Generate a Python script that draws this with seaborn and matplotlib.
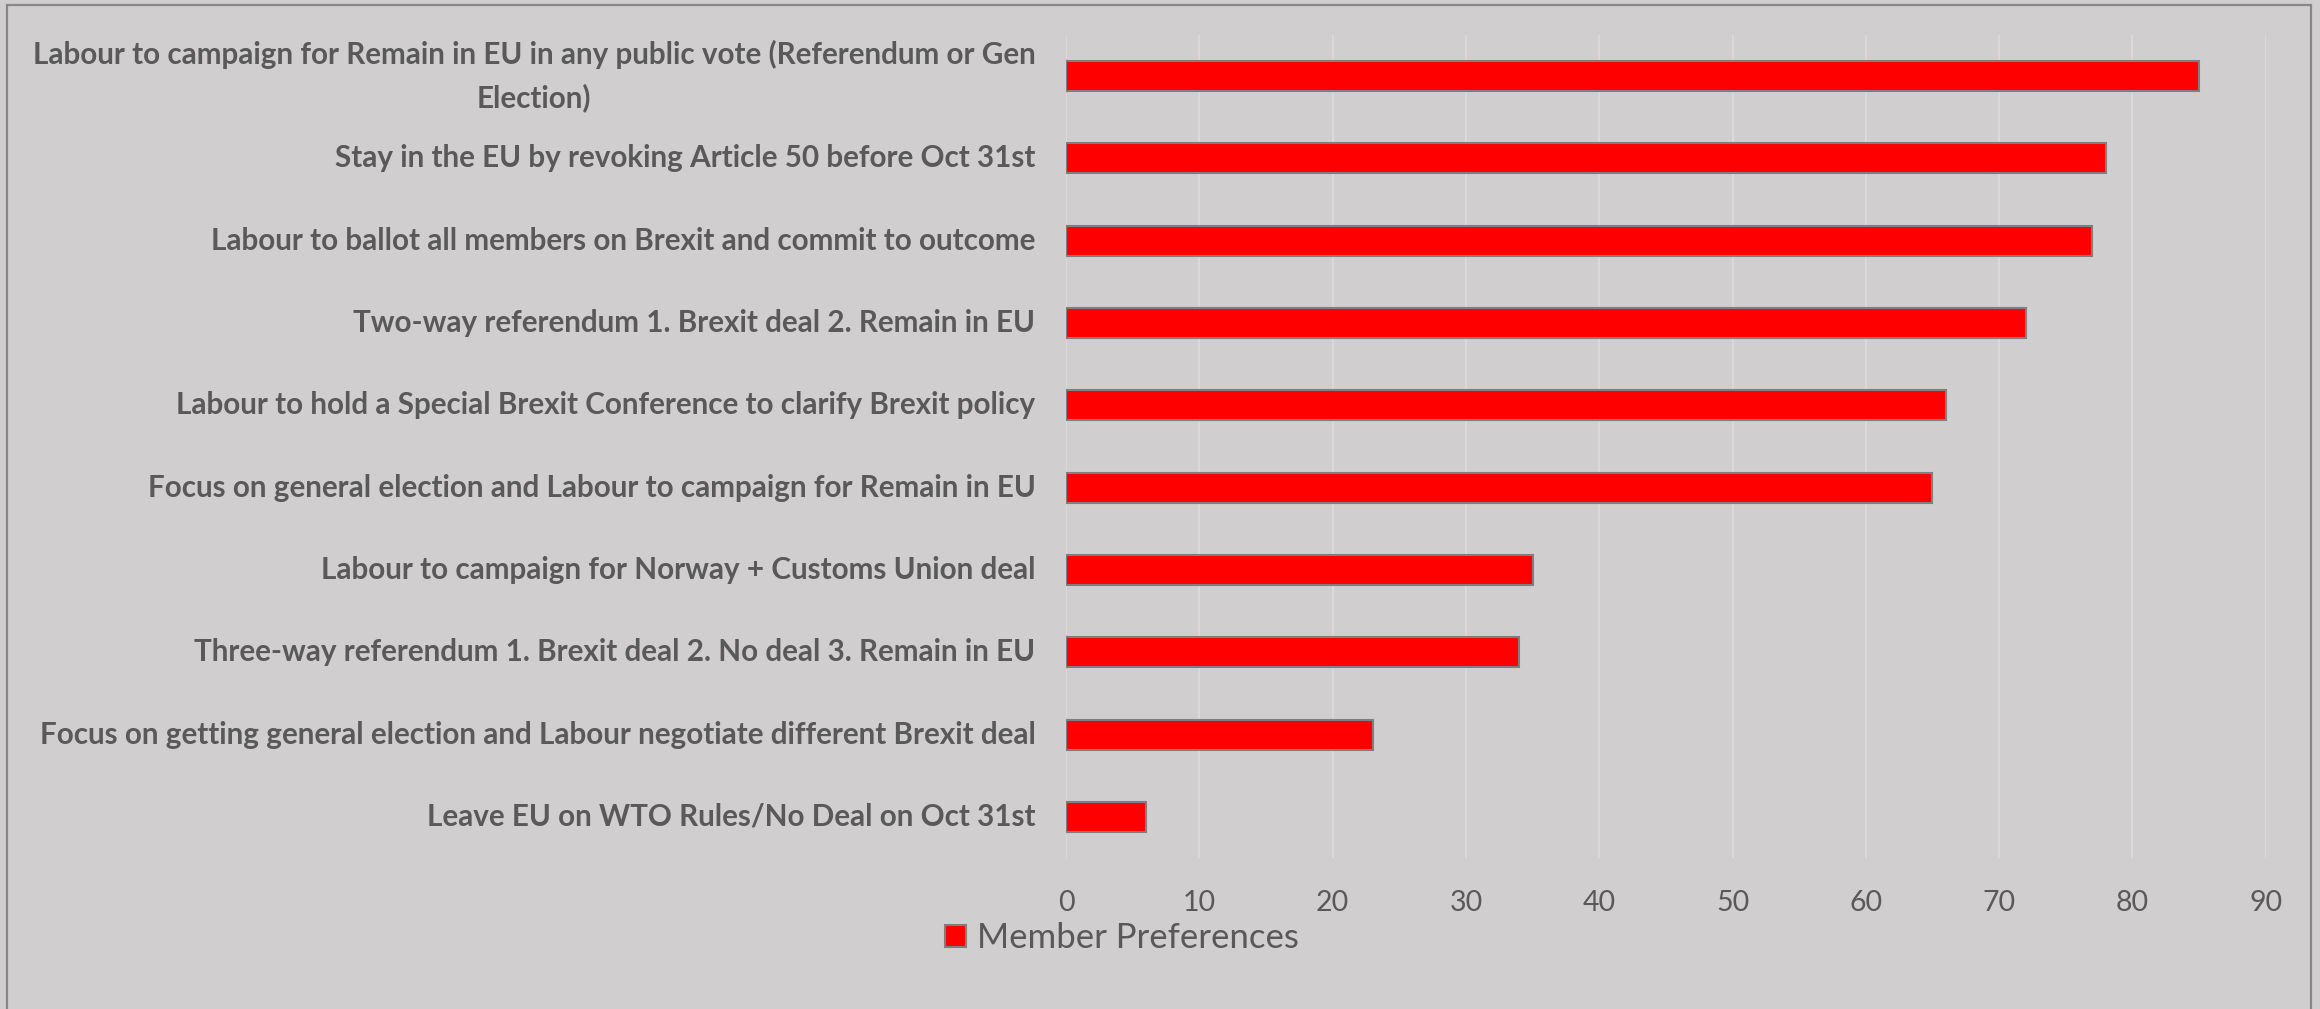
import matplotlib
matplotlib.use("Agg")
import matplotlib.pyplot as plt
import seaborn as sns
import pandas as pd
from matplotlib.patches import Rectangle, Patch

categories = [
    "Labour to campaign for Remain in EU in any public vote (Referendum or Gen\nElection)",
    "Stay in the EU by revoking Article 50 before Oct 31st",
    "Labour to ballot all members on Brexit and commit to outcome",
    "Two-way referendum 1. Brexit deal 2. Remain in EU",
    "Labour to hold a Special Brexit Conference to clarify Brexit policy",
    "Focus on general election and Labour to campaign for Remain in EU",
    "Labour to campaign for Norway + Customs Union deal",
    "Three-way referendum 1. Brexit deal 2. No deal 3. Remain in EU",
    "Focus on getting general election and Labour negotiate different Brexit deal",
    "Leave EU on WTO Rules/No Deal on Oct 31st",
]
values = [85, 78, 77, 72, 66, 65, 35, 34, 23, 6]
series_name = "Member Preferences"
xticks = [0, 10, 20, 30, 40, 50, 60, 70, 80, 90]

BG = "#D0CECE"
TXT = "#595959"

sns.set_theme(style="white")
plt.rcParams["font.family"] = ["Lato", "DejaVu Sans"]

W, H = 2320, 1009
fig = plt.figure(figsize=(W / 100, H / 100), dpi=100)
fig.patch.set_facecolor(BG)
ax = fig.add_axes([1066 / W, 1 - 858 / H, (2265.7 - 1066) / W, (858 - 35) / H])
ax.set_facecolor(BG)

df = pd.DataFrame({"category": categories, "value": values})
sns.barplot(data=df, x="value", y="category", orient="h", color="#FF0000",
            saturation=1, edgecolor="#7F7F7F", linewidth=1.5, width=0.365, ax=ax)

ax.set_xlim(0, 90)
ax.set_xticks(xticks)
ax.set_xlabel("")
ax.set_ylabel("")
ax.grid(axis="x", color="#DADADA", linewidth=1.4)
ax.set_axisbelow(True)
for s in ax.spines.values():
    s.set_visible(False)
ax.tick_params(axis="x", length=0, pad=23, labelsize=20.5, labelcolor=TXT)
ax.tick_params(axis="y", length=0, pad=22, labelsize=21.3, labelcolor=TXT)
for lab in ax.get_yticklabels():
    lab.set_fontweight("bold")
    lab.set_multialignment("center")
    lab.set_linespacing(1.6)
    lab.set_verticalalignment("center")

handle = Patch(facecolor="#FF0000", edgecolor="#7F7F7F", linewidth=1.5)
fig.legend([handle], [series_name], loc="center",
           bbox_to_anchor=(1122 / W, 1 - 938 / H), frameon=False,
           fontsize=25, labelcolor=TXT, handlelength=0.6, handleheight=0.6,
           handletextpad=0.3)

border = Rectangle((6.5 / W, -0.05), (2310.5 - 6.5) / W, 1 - 5 / H + 0.05,
                   transform=fig.transFigure, fill=False, edgecolor="#878787",
                   linewidth=1.6)
fig.add_artist(border)

fig.savefig("out.png", dpi=100, facecolor=BG)
